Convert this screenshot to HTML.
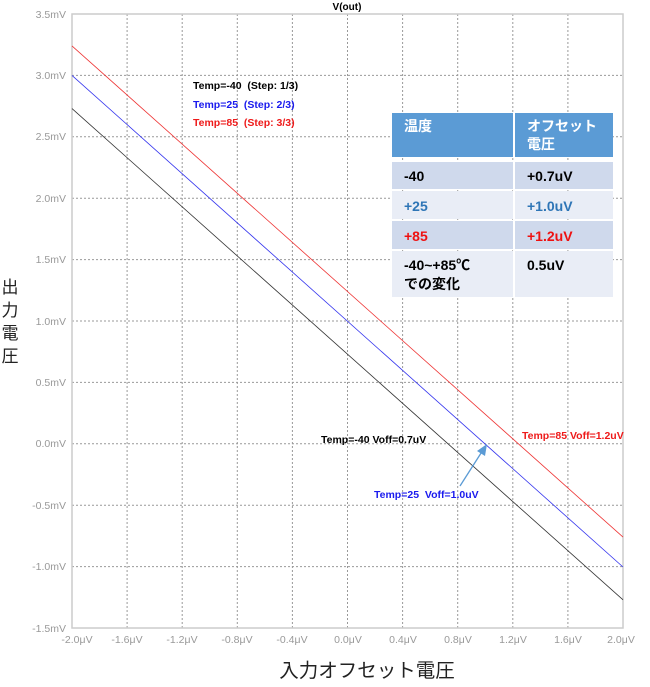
<!DOCTYPE html>
<html><head><meta charset="utf-8"><style>
body{margin:0;background:#fff;width:650px;height:682px;overflow:hidden}
text{font-family:"Liberation Sans","Noto Sans CJK JP",sans-serif;white-space:pre}
</style></head><body>
<svg width="650" height="682" xmlns="http://www.w3.org/2000/svg" xml:space="preserve">
<g stroke="#999" stroke-width="1" stroke-dasharray="2,2">
<line x1="127.1" y1="14" x2="127.1" y2="628"/><line x1="182.2" y1="14" x2="182.2" y2="628"/><line x1="237.3" y1="14" x2="237.3" y2="628"/><line x1="292.4" y1="14" x2="292.4" y2="628"/><line x1="347.5" y1="14" x2="347.5" y2="628"/><line x1="402.6" y1="14" x2="402.6" y2="628"/><line x1="457.7" y1="14" x2="457.7" y2="628"/><line x1="512.8" y1="14" x2="512.8" y2="628"/><line x1="567.9" y1="14" x2="567.9" y2="628"/>
<line x1="72" y1="75.4" x2="623" y2="75.4"/><line x1="72" y1="136.8" x2="623" y2="136.8"/><line x1="72" y1="198.2" x2="623" y2="198.2"/><line x1="72" y1="259.6" x2="623" y2="259.6"/><line x1="72" y1="321" x2="623" y2="321"/><line x1="72" y1="382.4" x2="623" y2="382.4"/><line x1="72" y1="443.8" x2="623" y2="443.8"/><line x1="72" y1="505.2" x2="623" y2="505.2"/><line x1="72" y1="566.6" x2="623" y2="566.6"/>
</g>
<rect x="72" y="14" width="551" height="614" fill="none" stroke="#ccc" stroke-width="1.5"/>
<g font-size="10.5" fill="#999" text-anchor="end">
<text x="66" y="18">3.5mV</text><text x="66" y="79">3.0mV</text><text x="66" y="140">2.5mV</text><text x="66" y="202">2.0mV</text><text x="66" y="263">1.5mV</text><text x="66" y="325">1.0mV</text><text x="66" y="386">0.5mV</text><text x="66" y="447">0.0mV</text><text x="66" y="509">-0.5mV</text><text x="66" y="570">-1.0mV</text><text x="66" y="632">-1.5mV</text>
</g>
<g font-size="10.5" fill="#999" text-anchor="middle">
<text x="77" y="643">-2.0μV</text><text x="127" y="643">-1.6μV</text><text x="182" y="643">-1.2μV</text><text x="237" y="643">-0.8μV</text><text x="292" y="643">-0.4μV</text><text x="348" y="643">0.0μV</text><text x="403" y="643">0.4μV</text><text x="458" y="643">0.8μV</text><text x="513" y="643">1.2μV</text><text x="568" y="643">1.6μV</text><text x="621" y="643">2.0μV</text>
</g>
<line x1="72" y1="108.6" x2="623" y2="599.8" stroke="#333" stroke-width="0.8"/>
<line x1="72" y1="75.4" x2="623" y2="567" stroke="#3333ee" stroke-width="0.8"/>
<line x1="72" y1="45.9" x2="623" y2="537.1" stroke="#ee3333" stroke-width="0.8"/>
<text x="347" y="10" font-size="10" font-weight="bold" text-anchor="middle">V(out)</text>
<g font-size="10.5" font-weight="bold">
<text x="193" y="89" fill="#000">Temp=-40  (Step: 1/3)</text>
<text x="193" y="108" fill="#1a1aee">Temp=25  (Step: 2/3)</text>
<text x="193" y="126" fill="#ee1a1a">Temp=85  (Step: 3/3)</text>
<text x="321" y="443" fill="#000">Temp=-40 Voff=0.7uV</text>
<text x="522" y="439" fill="#ee1a1a">Temp=85 Voff=1.2uV</text>
<text x="374" y="498" fill="#1a1aee">Temp=25  Voff=1.0uV</text>
</g>
<line x1="460" y1="486" x2="483" y2="450" stroke="#5b9bd5" stroke-width="1.3"/>
<polygon points="487,444 477,451 485,456" fill="#5b9bd5"/>
<rect x="392" y="113" width="221" height="44" fill="#5b9bd5"/>
<line x1="514" y1="113" x2="514" y2="157" stroke="#fff" stroke-width="2"/>
<rect x="392" y="162" width="221" height="27" fill="#cfd9ec"/>
<rect x="392" y="191" width="221" height="28" fill="#e9edf6"/>
<rect x="392" y="221" width="221" height="28" fill="#cfd9ec"/>
<rect x="392" y="251" width="221" height="46" fill="#e9edf6"/>
<line x1="514" y1="162" x2="514" y2="297" stroke="#fff" stroke-width="2"/>
<g font-size="14" font-weight="bold">
<text x="404" y="131" fill="#fff">温度</text>
<text x="527" y="131" fill="#fff">オフセット</text>
<text x="527" y="149" fill="#fff">電圧</text>
<text x="404" y="181" fill="#000">-40</text><text x="527" y="181" fill="#000">+0.7uV</text>
<text x="404" y="211" fill="#2e75b6">+25</text><text x="527" y="211" fill="#2e75b6">+1.0uV</text>
<text x="404" y="241" fill="#ee1111">+85</text><text x="527" y="241" fill="#ee1111">+1.2uV</text>
<text x="404" y="270" fill="#000">-40~+85℃</text><text x="527" y="270" fill="#000">0.5uV</text>
<text x="404" y="289" fill="#000">での変化</text>
</g>
<g font-size="17" fill="#222">
<text x="10" y="293" text-anchor="middle">出</text>
<text x="10" y="316" text-anchor="middle">力</text>
<text x="10" y="339" text-anchor="middle">電</text>
<text x="10" y="362" text-anchor="middle">圧</text>
<text x="367" y="677" text-anchor="middle" font-size="19.5">入力オフセット電圧</text>
</g>
</svg>
</body></html>
